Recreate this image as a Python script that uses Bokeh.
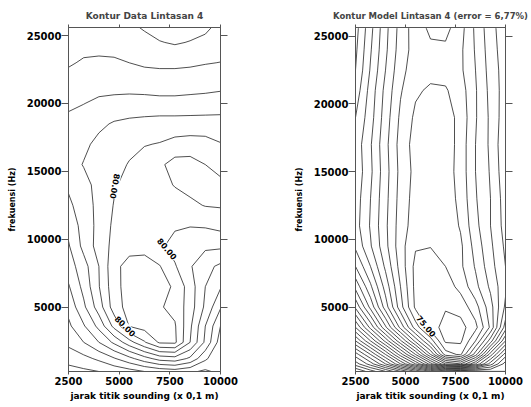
import numpy as np
from bokeh.plotting import figure
from bokeh.layouts import row
from bokeh.models import Range1d, LinearAxis, FixedTicker, CustomJSTickFormatter
from bokeh.core.properties import value
from bokeh.embed import file_html
from bokeh.resources import INLINE

# ---- data ----
jarak = [2500, 3250, 4000, 4750, 5500, 6250, 7000, 7750, 8500, 9250, 10000]

frek_data = [250, 1200, 2400, 3600, 5000, 6500, 8000, 9500, 11000, 12500,
             14000, 15500, 17000, 18500, 20000, 21500, 23000, 24500, 25600]
z_data = [
    [72.7, 72.8, 73.0, 73.3, 73.6, 74.0, 74.3, 74.5, 74.2, 73.8, 74.3],
    [73.3, 73.7, 74.2, 74.9, 75.7, 76.6, 77.4, 77.6, 76.8, 75.2, 74.0],
    [74.3, 75.0, 76.0, 77.2, 78.6, 79.9, 81.15, 81.2, 79.0, 76.8, 74.5],
    [74.8, 75.9, 77.3, 79.3, 81.05, 81.4, 81.4, 81.1, 79.2, 77.0, 75.0],
    [75.3, 76.8, 78.5, 80.5, 81.4, 81.4, 81.1, 80.7, 79.5, 77.8, 76.1],
    [75.9, 77.3, 78.95, 80.6, 81.5, 81.5, 81.4, 80.85, 79.5, 78.0, 77.1],
    [76.5, 77.6, 79.0, 80.7, 81.4, 81.5, 81.05, 80.1, 79.1, 78.3, 77.8],
    [76.9, 78.3, 79.4, 80.3, 80.6, 80.6, 80.2, 79.6, 79.3, 79.2, 79.2],
    [77.3, 78.4, 79.3, 80.2, 80.45, 80.5, 80.4, 80.15, 80.05, 80.1, 80.3],
    [77.8, 78.5, 79.3, 80.05, 80.3, 80.4, 80.45, 80.6, 80.8, 81.05, 81.1],
    [78.15, 78.7, 79.3, 79.9, 80.3, 80.5, 80.7, 81.05, 81.3, 81.3, 81.2],
    [78.6, 79.05, 79.4, 79.75, 80.05, 80.4, 80.8, 81.4, 81.4, 81.0, 80.7],
    [78.5, 78.8, 79.25, 79.6, 79.8, 79.95, 80.05, 80.3, 80.4, 80.35, 80.05],
    [78.3, 78.5, 78.8, 79.1, 79.25, 79.35, 79.45, 79.45, 79.45, 79.45, 79.45],
    [77.8, 77.98, 78.2, 78.3, 78.35, 78.35, 78.3, 78.3, 78.35, 78.4, 78.45],
    [77.35, 77.5, 77.6, 77.6, 77.6, 77.55, 77.5, 77.5, 77.55, 77.6, 77.7],
    [76.9, 77.1, 77.2, 77.15, 77.0, 76.85, 76.8, 76.8, 76.85, 76.95, 77.02],
    [76.7, 76.7, 76.6, 76.6, 76.5, 76.3, 76.05, 75.9, 76.05, 76.25, 76.5],
    [76.6, 76.6, 76.5, 76.4, 76.2, 75.9, 75.6, 75.5, 75.6, 75.8, 76.3],
]

frek_model = [250, 800, 1500, 2500, 3500, 5000, 6500, 8000, 9500, 11000,
              13000, 15000, 17000, 19000, 21000, 22500, 24000, 25600]
z_model = [
    [49.0, 50.5, 52.0, 54.0, 56.0, 58.0, 59.5, 58.5, 59.5, 60.0, 60.0],
    [51.5, 53.5, 56.0, 59.0, 62.0, 65.5, 69.0, 70.0, 67.0, 63.5, 60.5],
    [53.5, 56.0, 59.0, 62.5, 66.0, 70.0, 74.5, 75.2, 71.5, 66.5, 62.5],
    [57.0, 60.0, 63.3, 66.8, 70.3, 73.5, 76.2, 76.2, 74.0, 70.5, 66.0],
    [60.0, 63.3, 66.8, 70.3, 73.5, 75.5, 76.4, 76.4, 75.3, 72.8, 68.5],
    [63.2, 66.3, 69.5, 72.6, 75.2, 75.7, 75.9, 75.6, 74.4, 72.4, 69.8],
    [65.3, 67.8, 70.4, 73.0, 75.3, 75.6, 75.5, 74.7, 73.3, 71.8, 70.2],
    [67.0, 69.0, 71.2, 73.4, 75.3, 75.4, 75.0, 74.2, 72.9, 71.4, 70.0],
    [68.2, 69.9, 71.7, 73.6, 74.9, 74.97, 74.8, 74.2, 72.6, 71.2, 69.8],
    [68.6, 70.1, 71.8, 73.5, 74.5, 74.8, 74.7, 73.9, 72.3, 71.0, 69.6],
    [68.5, 70.0, 71.7, 73.4, 74.4, 74.7, 74.6, 73.7, 72.1, 71.0, 69.5],
    [68.3, 69.8, 71.6, 73.3, 74.3, 74.6, 74.5, 73.6, 72.0, 70.9, 69.3],
    [68.4, 69.9, 71.7, 73.4, 74.4, 74.7, 74.6, 73.6, 72.0, 70.8, 69.2],
    [68.0, 69.6, 71.5, 73.2, 74.2, 74.5, 74.45, 73.7, 72.1, 70.8, 69.4],
    [67.4, 69.4, 71.3, 72.9, 73.85, 74.15, 74.1, 73.5, 72.1, 70.7, 69.5],
    [67.0, 69.1, 71.0, 72.7, 73.5, 73.7, 73.65, 73.2, 72.0, 70.6, 69.5],
    [66.8, 68.9, 70.8, 72.5, 73.4, 73.8, 73.8, 73.2, 71.9, 70.5, 69.4],
    [66.6, 68.7, 70.7, 72.4, 73.5, 74.2, 74.3, 73.4, 71.8, 70.4, 69.3],
]

levels_data = list(range(70, 83))
levels_model = list(range(45, 78))

x_ticks = [2500, 5000, 7500, 10000]
y_ticks = [5000, 10000, 15000, 20000, 25000]

lab_data_x = [4820, 7380, 5310]
lab_data_y = [13900, 9300, 3610]
lab_data_angle = [-100, -50, -45]
lab_data_text = ["80.00", "80.00", "80.00"]

lab_model_x = [6050]
lab_model_y = [3610]
lab_model_angle = [-50]
lab_model_text = ["75.00"]

title_data = "Kontur Data Lintasan 4"
title_model = "Kontur Model Lintasan 4 (error = 6,77%)"
xlabel = "jarak titik sounding (x 0,1 m)"
ylabel = "frekuensi (Hz)"

FONT = "DejaVu Sans"
AX = "#555555"


def make(title, ys, zs, levels, lx, ly, la, lt, width, height, left, right, top, bottom,
         yr, title_size, title_offset):
    p = figure(width=width, height=height, x_range=Range1d(2500, 10000), y_range=Range1d(*yr),
               output_backend="svg", toolbar_location=None,
               min_border_left=left, min_border_right=right,
               min_border_top=top, min_border_bottom=bottom)
    p.title.text = title
    p.title.text_font = FONT
    p.title.text_font_size = title_size
    p.title.text_font_style = "bold"
    p.title.align = "center"
    p.title.standoff = 7
    p.title.offset = title_offset
    p.grid.visible = False
    p.outline_line_color = AX
    p.background_fill_color = "white"
    p.border_fill_color = "white"

    p.contour(x=jarak, y=ys, z=np.array(zs), levels=levels,
              line_color="#222222", line_width=0.8)

    p.text(x=lx, y=ly, text=lt, angle=la, angle_units="deg",
           text_font=value(FONT), text_font_size="8px", text_font_style="bold",
           text_align="center", text_baseline="middle", text_color="black",
           background_fill_color="white")

    xa = p.xaxis[0]
    xa.ticker = FixedTicker(ticks=x_ticks)
    xa.axis_label = xlabel
    ya = p.yaxis[0]
    ya.ticker = FixedTicker(ticks=y_ticks)
    ya.axis_label = ylabel

    top_ax = LinearAxis(ticker=FixedTicker(ticks=x_ticks),
                        formatter=CustomJSTickFormatter(code="return ''"))
    right_ax = LinearAxis(ticker=FixedTicker(ticks=y_ticks),
                          formatter=CustomJSTickFormatter(code="return ''"))
    p.add_layout(top_ax, "above")
    p.add_layout(right_ax, "right")

    for ax in (xa, ya, top_ax, right_ax):
        ax.axis_line_color = AX
        ax.major_tick_line_color = AX
        ax.minor_tick_line_color = None
        ax.major_tick_in = 0
        ax.major_label_text_font = FONT
        ax.major_label_text_font_style = "bold"
        ax.major_label_text_font_size = "10px"
        ax.major_label_text_color = "black"
        ax.axis_label_text_font = FONT
        ax.axis_label_text_font_style = "bold"
        ax.axis_label_text_color = "black"
        ax.axis_label_text_font_size = "9px"
    xa.major_tick_out = 3
    xa.major_label_standoff = 2
    xa.axis_label_standoff = 3
    ya.major_tick_out = 7
    ya.major_label_standoff = 0
    ya.axis_label_standoff = 7
    ya.axis_label_text_font_size = "8px"
    top_ax.major_tick_out = 3
    top_ax.major_label_standoff = 0
    right_ax.major_tick_out = 7
    right_ax.major_label_standoff = 0
    return p


p1 = make(title_data, frek_data, z_data, levels_data,
          lab_data_x, lab_data_y, lab_data_angle, lab_data_text,
          width=291, height=405, left=68, right=71, top=27, bottom=32,
          yr=(250, 25600), title_size="9px", title_offset=0)
p2 = make(title_model, frek_model, z_model, levels_model,
          lab_model_x, lab_model_y, lab_model_angle, lab_model_text,
          width=238, height=405, left=62, right=24, top=24, bottom=34,
          yr=(240, 25650), title_size="8.5px", title_offset=-6)

layout = row(p1, p2)
open("out.html", "w").write(file_html(layout, INLINE))
